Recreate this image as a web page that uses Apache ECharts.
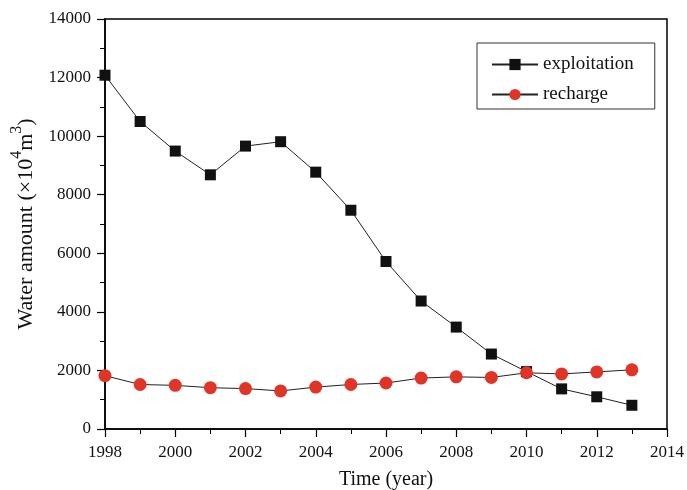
<!DOCTYPE html>
<html><head><meta charset="utf-8">
<script src="https://cdn.jsdelivr.net/npm/echarts@6/dist/echarts.min.js"></script>
<style>html,body{margin:0;padding:0;background:#fff}#c{width:687px;height:490px}</style>
</head><body><div id="c"></div>
<script>
const years = [1998,1999,2000,2001,2002,2003,2004,2005,2006,2007,2008,2009,2010,2011,2012,2013];
const exploitation = [12080,10500,9490,8680,9660,9810,8770,7470,5720,4370,3480,2560,1960,1370,1100,810];
const recharge = [1820,1520,1490,1410,1380,1300,1430,1520,1570,1740,1780,1760,1920,1880,1950,2020];
const xTicks = [1998,2000,2002,2004,2006,2008,2010,2012,2014];
const yTicks = [0,2000,4000,6000,8000,10000,12000,14000];

const font = 'Liberation Serif';
const chart = echarts.init(document.getElementById('c'), null, {renderer:'canvas'});
chart.setOption({
  animation:false,
  backgroundColor:'#fff',
  grid:{left:105,right:20,top:19,bottom:61,outerBoundsMode:'none',containLabel:false,show:true,borderColor:'#000',borderWidth:1.5,backgroundColor:'transparent'},
  legend:{
    orient:'vertical', left:477, top:43,
    padding:[12,21,5,14],
    itemWidth:46, itemHeight:14, itemGap:11,
    borderColor:'#333', borderWidth:1,
    textStyle:{fontFamily:font,fontSize:19,color:'#111'},
    data:['exploitation','recharge']
  },
  xAxis:{
    type:'value', min:xTicks[0], max:xTicks[xTicks.length-1], interval:2,
    name:'Time (year)', nameLocation:'middle', nameGap:41,
    nameTextStyle:{fontFamily:font,fontSize:20,color:'#111'},
    axisLine:{lineStyle:{color:'#000',width:1.5}},
    axisTick:{show:true,length:8,lineStyle:{color:'#000',width:1.2}},
    minorTick:{show:true,splitNumber:2,length:5,lineStyle:{color:'#000',width:1}},
    splitLine:{show:false},
    axisLabel:{fontFamily:font,fontSize:17,color:'#111',margin:15,formatter:v=>String(v)}
  },
  yAxis:{
    type:'value', min:yTicks[0], max:yTicks[yTicks.length-1], interval:2000,
    name:'{n|Water amount (×10}{s|4}{n|m}{s|3}{n|)}', nameLocation:'middle', nameGap:68,
    nameTextStyle:{fontFamily:font,fontSize:22,color:'#111',
      rich:{n:{fontFamily:font,fontSize:22,color:'#111',verticalAlign:'bottom',lineHeight:28},
            s:{fontFamily:font,fontSize:16,color:'#111',verticalAlign:'top',padding:[0,0,12,0],lineHeight:28}}},
    axisLine:{show:true,lineStyle:{color:'#000',width:1.5}},
    axisTick:{show:true,length:8,lineStyle:{color:'#000',width:1.2}},
    minorTick:{show:true,splitNumber:2,length:5,lineStyle:{color:'#000',width:1}},
    splitLine:{show:false},
    axisLabel:{fontFamily:font,fontSize:17,color:'#111',margin:14,formatter:v=>String(v)}
  },
  series:[
    {name:'exploitation',type:'line',data:years.map((y,i)=>[y,exploitation[i]]),
     symbol:'rect',symbolSize:11,showAllSymbol:true,
     itemStyle:{color:'#111'},lineStyle:{color:'#222',width:1}},
    {name:'recharge',type:'line',data:years.map((y,i)=>[y,recharge[i]]),
     symbol:'circle',symbolSize:13,showAllSymbol:true,
     itemStyle:{color:'#e03526'},lineStyle:{color:'#222',width:1}}
  ]
});
</script></body></html>
